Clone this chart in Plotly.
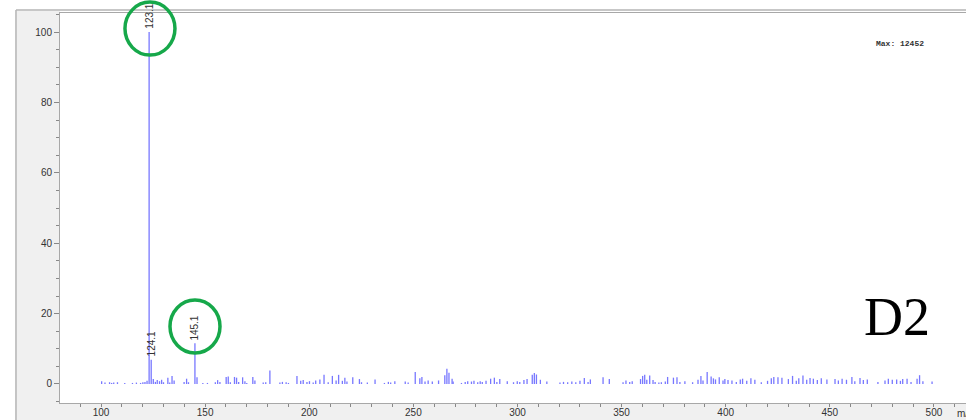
import plotly.graph_objects as go

# Mass spectrum D2 (relative intensity, %)
mz = [100.3, 101.9, 104.1, 105.1, 106.1, 107.9, 111.4, 115.1, 117.0, 119.0, 120.1, 121.1, 122.1,
      123.1, 124.1, 125.1, 126.1, 127.0, 128.1, 129.1, 130.0, 132.1, 133.0, 134.1, 135.1, 139.9,
      141.1, 142.0, 145.1, 146.1, 148.9, 151.1, 154.9, 156.0, 157.1, 160.1, 161.1, 162.1, 164.1,
      165.1, 166.1, 168.0, 169.1, 170.0, 172.9, 173.9, 177.9, 179.1, 181.1, 185.9, 187.1, 188.9,
      190.0, 194.1, 195.9, 197.1, 198.9, 200.1, 201.9, 203.1, 205.1, 207.1, 209.1, 211.1, 212.9,
      214.1, 215.9, 217.1, 218.1, 220.9, 224.1, 225.1, 227.9, 231.6, 236.1, 238.0, 239.1, 241.1,
      246.1, 247.5, 250.9, 253.1, 254.1, 255.6, 257.1, 259.1, 262.1, 265.1, 266.1, 267.1, 268.6,
      269.1, 273.1, 274.9, 276.1, 277.9, 279.1, 280.9, 282.1, 283.1, 284.9, 287.1, 288.9, 290.1,
      291.5, 295.1, 298.1, 299.9, 301.1, 303.1, 304.6, 307.1, 308.1, 309.1, 311.0, 314.1, 320.4,
      322.1, 324.1, 326.1, 328.0, 330.0, 332.1, 333.9, 335.0, 341.1, 344.1, 350.7, 352.1, 353.9,
      355.1, 359.1, 360.1, 361.1, 362.1, 363.5, 365.1, 366.1, 367.9, 369.1, 371.0, 372.1, 374.9,
      376.6, 378.0, 380.4, 384.1, 386.7, 388.1, 389.1, 391.1, 393.0, 394.1, 395.1, 396.9, 398.7,
      399.6, 401.1, 403.0, 405.1, 407.0, 408.1, 410.1, 412.1, 414.0, 417.1, 420.1, 421.9, 423.1,
      425.1, 427.0, 430.1, 432.1, 433.9, 435.1, 437.1, 438.9, 440.5, 442.1, 444.0, 445.9, 448.6,
      452.5, 454.1, 455.9, 458.0, 460.6, 462.0, 464.5, 466.1, 468.0, 473.1, 476.5, 478.1, 480.0,
      482.1, 483.9, 485.0, 487.1, 489.0, 491.9, 493.1, 494.7, 499.1]
intensity = [0.8, 0.4, 0.5, 0.3, 0.4, 0.5, 0.3, 0.3, 0.4, 0.3, 0.5, 0.6, 0.9,
             100.0, 6.9, 1.4, 0.6, 1.1, 0.8, 1.2, 0.5, 1.8, 0.4, 2.3, 1.0, 0.6,
             1.5, 0.5, 11.6, 1.9, 0.3, 0.3, 0.5, 1.1, 0.6, 2.0, 2.1, 0.5, 2.0,
             1.8, 0.6, 1.9, 0.8, 0.3, 2.0, 1.0, 0.4, 0.5, 3.8, 0.4, 0.6, 0.5,
             0.3, 2.3, 0.9, 1.1, 0.6, 0.8, 0.4, 1.0, 1.3, 2.6, 0.5, 2.3, 1.0,
             2.6, 0.9, 1.8, 0.7, 1.9, 1.4, 0.5, 0.4, 1.3, 0.3, 0.6, 0.4, 0.8,
             0.7, 0.4, 3.4, 1.6, 2.0, 0.7, 1.0, 0.7, 1.0, 2.5, 4.3, 3.2, 1.5,
             0.7, 0.3, 0.6, 0.8, 0.7, 0.9, 0.5, 0.8, 0.6, 0.9, 1.5, 1.8, 0.6,
             1.4, 0.8, 0.5, 0.8, 0.6, 1.1, 1.4, 2.6, 3.1, 2.7, 1.2, 0.7, 0.4,
             0.6, 0.5, 0.7, 0.5, 0.9, 1.7, 0.6, 1.3, 1.9, 1.4, 0.5, 1.0, 0.6,
             0.8, 1.4, 2.3, 2.6, 1.2, 2.4, 1.1, 0.6, 0.4, 0.5, 0.7, 2.0, 1.8,
             1.9, 0.6, 0.8, 0.5, 1.2, 2.3, 1.0, 3.4, 2.1, 1.6, 1.3, 1.9, 1.0,
             1.4, 1.1, 1.0, 0.6, 1.3, 1.5, 0.9, 1.6, 1.2, 0.5, 0.9, 1.6, 2.0,
             1.9, 1.8, 1.4, 2.3, 0.9, 1.6, 2.4, 1.2, 1.7, 1.5, 1.1, 1.6, 1.3,
             1.4, 1.0, 1.5, 1.2, 2.0, 0.8, 1.7, 1.1, 1.3, 0.6, 1.0, 1.5, 1.2,
             1.3, 0.9, 1.4, 1.5, 0.6, 1.5, 2.5, 0.8, 0.7]

label_mz = [123.1, 124.1, 145.1]
label_int = [100.0, 6.9, 11.6]
label_text = ["123.1", "124.1", "145.1"]

# stick spectrum as vertical line segments
xs, ys = [], []
for m, h in zip(mz, intensity):
    xs += [m, m, None]
    ys += [0, h, None]

fig = go.Figure()
fig.add_trace(go.Scatter(x=xs, y=ys, mode="lines",
                         line=dict(color="#7878ff", width=1.3),
                         hoverinfo="skip", showlegend=False))

for m, h, t in zip(label_mz, label_int, label_text):
    fig.add_annotation(x=m, y=h, text=t, showarrow=False, textangle=-90,
                       yanchor="bottom", xanchor="center", yshift=1,
                       font=dict(family="Liberation Sans", size=10, color="#333333"))

gray = "#f0f0f0"
edge = "#b4b4b4"
shapes = [
    # gray frame around the plot area
    dict(type="rect", xref="paper", yref="paper", x0=-0.0486, x1=0, y0=-0.05, y1=1.005,
         fillcolor=gray, line=dict(width=0), layer="below"),
    dict(type="rect", xref="paper", yref="paper", x0=-0.0486, x1=1.01, y0=-0.05, y1=0,
         fillcolor=gray, line=dict(width=0), layer="below"),
    dict(type="line", xref="paper", yref="paper", x0=-0.0486, x1=-0.0486, y0=-0.05, y1=1.008,
         line=dict(color=edge, width=1.5)),
    dict(type="line", xref="paper", yref="paper", x0=-0.0486, x1=1.01, y0=1.008, y1=1.008,
         line=dict(color=edge, width=1.5)),
    # green circles around labelled peaks
    dict(type="circle", xref="paper", yref="paper", x0=0.0717, x1=0.1269, y0=0.892, y1=1.028,
         line=dict(color="#16a84a", width=3.5)),
    dict(type="circle", xref="paper", yref="paper", x0=0.1214, x1=0.1766, y0=0.128, y1=0.264,
         line=dict(color="#16a84a", width=3.5)),
]

fig.add_annotation(xref="paper", yref="paper", x=0.927, y=0.921, text="<b>Max: 12452</b>",
                   xanchor="center", yanchor="middle", showarrow=False,
                   font=dict(family="Liberation Mono", size=8, color="#333333"))
fig.add_annotation(xref="paper", yref="paper", x=0.924, y=0.22, text="D2",
                   xanchor="center", yanchor="middle", showarrow=False,
                   font=dict(family="Liberation Serif", size=54, color="black"))
fig.add_annotation(xref="paper", yref="paper", x=0.988, y=0, yshift=-10, text="m/z",
                   xanchor="left", yanchor="middle", showarrow=False,
                   font=dict(family="Liberation Sans", size=10, color="#333333"))

tickfont = dict(family="Liberation Sans", size=10, color="#333333")
fig.update_layout(
    width=966, height=420,
    margin=dict(l=60, r=0, t=13, b=17, autoexpand=False),
    paper_bgcolor="white", plot_bgcolor="white",
    shapes=shapes,
    xaxis=dict(range=[80.3, 515.4], tickvals=[100, 150, 200, 250, 300, 350, 400, 450, 500],
               ticks="outside", ticklen=3, tickcolor="#888888", tickfont=tickfont,
               ticklabelstandoff=-3,
               showgrid=False, zeroline=False, showline=True, linecolor="#a8a8a8",
               linewidth=1, mirror=True, automargin=False,
               minor=dict(dtick=10, tick0=0, ticks="outside", ticklen=3, tickcolor="#888888")),
    yaxis=dict(range=[-5.4, 105.4], tickvals=[0, 20, 40, 60, 80, 100],
               ticks="outside", ticklen=5, tickcolor="#888888", tickfont=tickfont,
               showgrid=False, zeroline=False, showline=True, linecolor="#a8a8a8",
               linewidth=1, automargin=False,
               minor=dict(dtick=5, tick0=0, ticks="outside", ticklen=3, tickcolor="#888888")),
)

fig.write_html("out.html", config={"displayModeBar": False},
               post_script="document.body.style.margin='0';")
